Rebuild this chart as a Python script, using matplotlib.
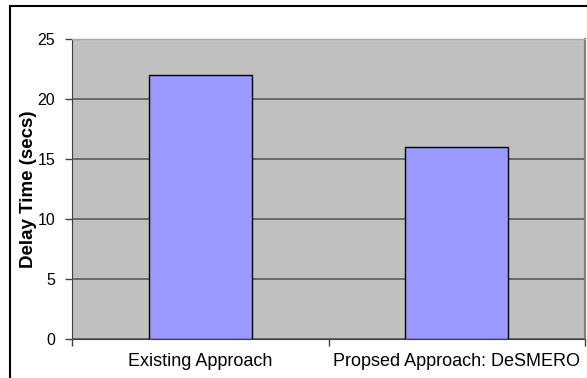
import matplotlib.pyplot as plt
from matplotlib.patches import Rectangle

plt.rcParams['font.family'] = ['Liberation Sans', 'DejaVu Sans']

# datos
categorias = ['Existing Approach', 'Propsed Approach: DeSMERO']
retardo = [22, 16]
yticks = [0, 5, 10, 15, 20, 25]

fig = plt.figure(figsize=(5.87, 3.78), dpi=100)
fig.patch.set_facecolor('white')
ax = fig.add_axes([72/587, 39/378, 513/587, 300/378])

x = range(len(categorias))
ax.set_facecolor('#C0C0C0')
ax.bar(x, retardo, width=0.4, color='#9999FF', edgecolor='black', linewidth=1, zorder=3)

ax.set_xlim(-0.5, len(categorias) - 0.5)
ax.set_ylim(0, 25)
ax.set_yticks(yticks)
ax.set_yticklabels([str(v) for v in yticks], fontsize=11.5)
ax.yaxis.grid(True, color='#5a5a5a', linewidth=1.2)
ax.set_axisbelow(True)

ax.set_xticks(list(x))
ax.set_xticklabels(categorias, fontsize=13)
ax.tick_params(axis='x', which='major', length=0, pad=10)
ax.set_xticks([-0.5, 0.5, 1.5], minor=True)
ax.tick_params(axis='x', which='minor', length=5, width=1, color='#404040', direction='out')
ax.tick_params(axis='y', length=5, width=1, color='#404040', direction='out', pad=7)

ax.spines['top'].set_color('#A8A8A8')
ax.spines['top'].set_linewidth(1)
ax.spines['right'].set_color('#808080')
ax.spines['right'].set_linewidth(1.5)
ax.spines['left'].set_color('#404040')
ax.spines['bottom'].set_color('#404040')

ax.set_ylabel('Delay Time (secs)', fontsize=13.5, fontweight='bold')
ax.yaxis.set_label_coords((37 - 72) / 513, 0.5)

# marco exterior
marco = Rectangle((10/587, -0.1), 1.2, (378 - 6)/378 + 0.1, transform=fig.transFigure,
                  fill=False, edgecolor='black', linewidth=1.5, clip_on=False)
fig.patches.append(marco)

fig.savefig('out.png', dpi=100)
